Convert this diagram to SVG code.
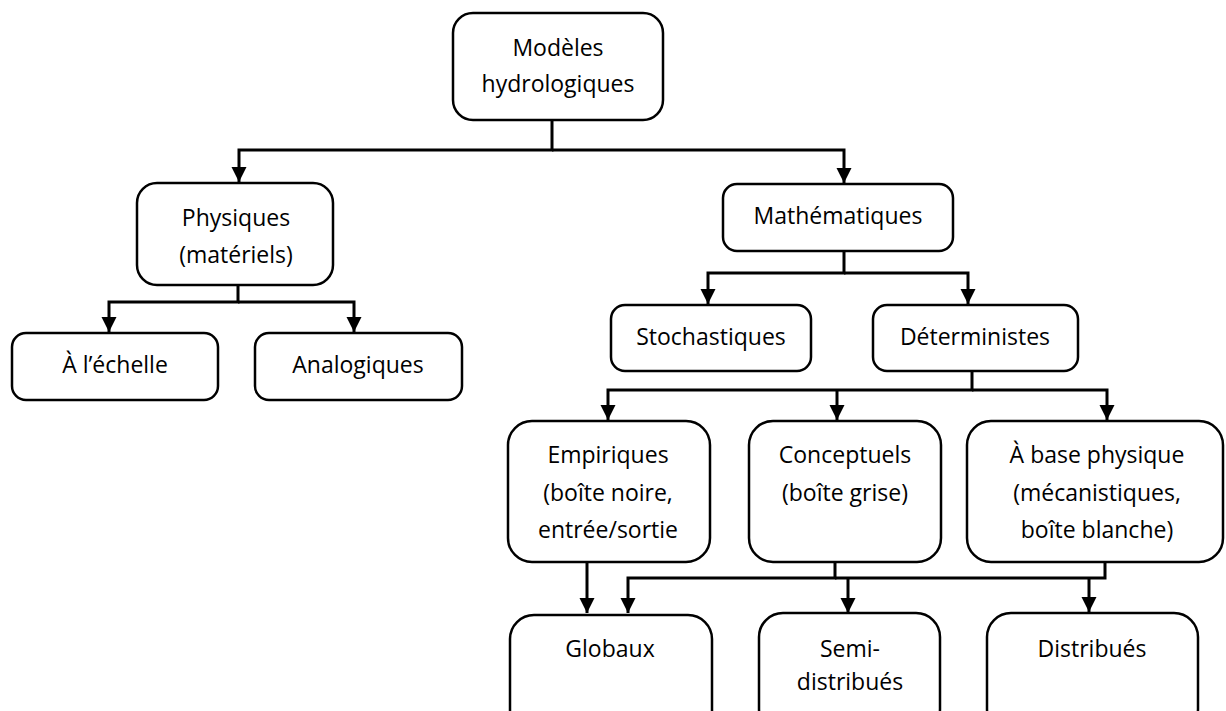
<svg xmlns="http://www.w3.org/2000/svg" width="1226" height="711" viewBox="0 0 1226 711">
<defs>
<marker id="ah" markerUnits="userSpaceOnUse" markerWidth="16" markerHeight="16" refX="15" refY="7.5" orient="auto">
<path d="M0,0 L15,7.5 L0,15 z" fill="#000"/>
</marker>
<style>
.box{fill:#fff;stroke:#000;stroke-width:2.5}
.t{font-family:"Open Sans","Noto Sans",sans-serif;font-size:23px;fill:#000;text-anchor:middle}
.c{fill:none;stroke:#000;stroke-width:3}
</style>
</defs>
<rect width="1226" height="711" fill="#fff"/>
<g id="connectors">
<path class="c" d="M552,120 V150 H239 V182" marker-end="url(#ah)"/>
<path class="c" d="M552,150 H844 V183" marker-end="url(#ah)"/>
<path class="c" d="M238,285 V302 H109 V332" marker-end="url(#ah)"/>
<path class="c" d="M238,302 H354 V332" marker-end="url(#ah)"/>
<path class="c" d="M844,251 V273 H708 V304" marker-end="url(#ah)"/>
<path class="c" d="M844,273 H968 V304" marker-end="url(#ah)"/>
<path class="c" d="M972,371 V390 H608 V420" marker-end="url(#ah)"/>
<path class="c" d="M837,390 V420" marker-end="url(#ah)"/>
<path class="c" d="M972,390 H1107 V420" marker-end="url(#ah)"/>
<path class="c" d="M587,562 V613" marker-end="url(#ah)"/>
<path class="c" d="M835,562 V578 H628 V613" marker-end="url(#ah)"/>
<path class="c" d="M1105,562 V578 H835"/>
<path class="c" d="M848,578 V613" marker-end="url(#ah)"/>
<path class="c" d="M1089,578 V612" marker-end="url(#ah)"/>
</g>
<g id="n-modeles"><rect class="box" x="453" y="13" width="210" height="107" rx="20"/><text class="t" x="558" y="56">Modèles</text><text class="t" x="558" y="92">hydrologiques</text></g>
<g id="n-physiques"><rect class="box" x="137" y="183" width="196" height="102" rx="20"/><text class="t" x="236" y="226">Physiques</text><text class="t" x="236" y="263">(matériels)</text></g>
<g id="n-echelle"><rect class="box" x="12" y="333" width="206" height="67" rx="14"/><text class="t" x="115" y="373">À l’échelle</text></g>
<g id="n-analogiques"><rect class="box" x="255" y="333" width="207" height="67" rx="14"/><text class="t" x="358" y="373">Analogiques</text></g>
<g id="n-math"><rect class="box" x="723" y="184" width="230" height="67" rx="14"/><text class="t" x="838" y="224">Mathématiques</text></g>
<g id="n-stoch"><rect class="box" x="611" y="305" width="200" height="66" rx="14"/><text class="t" x="711" y="345">Stochastiques</text></g>
<g id="n-determ"><rect class="box" x="873" y="305" width="205" height="66" rx="14"/><text class="t" x="975" y="345">Déterministes</text></g>
<g id="n-empiriques"><rect class="box" x="508" y="421" width="202" height="141" rx="24"/><text class="t" x="608" y="463">Empiriques</text><text class="t" x="608" y="501">(boîte noire,</text><text class="t" x="608" y="538">entrée/sortie</text></g>
<g id="n-conceptuels"><rect class="box" x="749" y="421" width="192" height="141" rx="24"/><text class="t" x="845" y="463">Conceptuels</text><text class="t" x="845" y="501">(boîte grise)</text></g>
<g id="n-basephys"><rect class="box" x="967" y="421" width="256" height="141" rx="24"/><text class="t" x="1097" y="463">À base physique</text><text class="t" x="1097" y="501">(mécanistiques,</text><text class="t" x="1097" y="538">boîte blanche)</text></g>
<g id="n-globaux"><rect class="box" x="510" y="615" width="202" height="120" rx="24"/><text class="t" x="610" y="657">Globaux</text></g>
<g id="n-semi"><rect class="box" x="759" y="613" width="181" height="120" rx="24"/><text class="t" x="850" y="657">Semi-</text><text class="t" x="850" y="690">distribués</text></g>
<g id="n-distrib"><rect class="box" x="987" y="613" width="211" height="120" rx="24"/><text class="t" x="1092" y="657">Distribués</text></g>
</svg>
